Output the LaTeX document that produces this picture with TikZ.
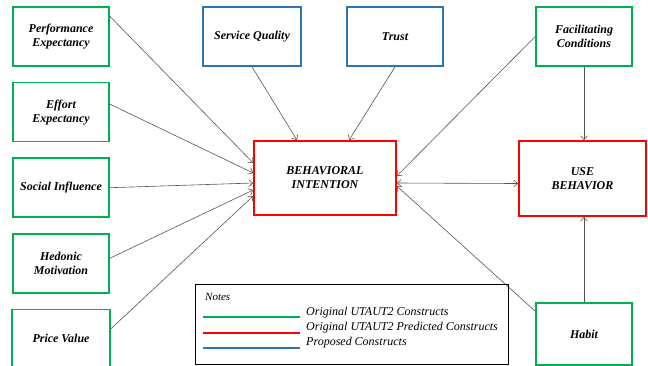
\documentclass[tikz,border=0pt]{standalone}
\usepackage{fontspec}
\setmainfont{Liberation Serif}
\usetikzlibrary{positioning, arrows.meta}
\definecolor{ugreen}{RGB}{0,176,80}
\definecolor{ured}{RGB}{255,0,0}
\definecolor{ublue}{RGB}{46,117,182}
\definecolor{arrgray}{RGB}{85,85,85}

\begin{document}
\begin{tikzpicture}[x=1pt, y=-1pt,
    every node/.style={font=\fontsize{12}{14}\selectfont\bfseries\itshape, align=center, inner sep=0pt},
    construct/.style={draw, line width=1.6pt, minimum width=96pt, minimum height=59pt},
    orig/.style={construct, draw=ugreen},
    proposed/.style={construct, draw=ublue},
    predicted/.style={draw=ured, line width=1.6pt},
    arr/.style={draw=arrgray, line width=0.6pt, -{Straight Barb[length=4pt, width=7pt]}},
    note/.style={font=\fontsize{12}{14}\selectfont\itshape, anchor=west}]
  \useasboundingbox (0,0) rectangle (648,365);

  % left column, original constructs
  \node[orig] (perf) at (61,36.5) {Performance\\Expectancy};
  \node[orig, below=15pt of perf] (effort) {Effort\\Expectancy};
  \node[orig, below=15pt of effort] (social) {Social Influence};
  \node[orig, below=15pt of social] (hedonic) {Hedonic\\Motivation};
  \node[orig, below=15pt of hedonic, minimum width=98pt] (price) {Price Value};

  % top row
  \node[proposed, minimum width=98pt] (service) at (252,36.5) {Service Quality};
  \node[proposed] (trust) at (395,36.5) {Trust};
  \node[orig] (facil) at (584,36.5) {Facilitating\\Conditions};
  \node[orig, minimum height=62pt] (habit) at (584,334) {Habit};

  % predicted constructs
  \node[predicted, minimum width=142pt, minimum height=74pt] (bi) at (325,178) {BEHAVIORAL\\INTENTION};
  \node[predicted, minimum width=127pt, minimum height=75pt] (use) at (582.5,178.5) {USE\\BEHAVIOR};

  % paths
  \draw[arr] ([yshift=-10pt]perf.north east) -- ([yshift=15pt]bi.west);
  \draw[arr] ([yshift=8pt]effort.east) -- ([yshift=5pt]bi.west);
  \draw[arr] (social.east) -- ([yshift=-5pt]bi.west);
  \draw[arr] ([yshift=5pt]hedonic.east) -- ([yshift=-12pt]bi.west);
  \draw[arr] ([yshift=10pt]price.east) -- ([yshift=-18pt]bi.west);
  \draw[arr] (service.south) -- ([xshift=-28pt]bi.north);
  \draw[arr] (trust.south) -- ([xshift=24pt]bi.north);
  \draw[arr] (facil.west) -- ([yshift=2pt]bi.east);
  \draw[arr] ([yshift=-9pt]habit.north west) -- ([yshift=-8pt]bi.east);
  \draw[arr, {Straight Barb[length=4pt, width=7pt]}-{Straight Barb[length=4pt, width=7pt]}] ([yshift=-5pt]bi.east) -- ([yshift=-5pt]use.west);
  \draw[arr] (facil.south) -- (facil.south |- use.north);
  \draw[arr] (habit.north) -- (habit.north |- use.south);

  % legend
  \node[draw, line width=0.6pt, minimum width=313pt, minimum height=80pt] (legend) at (351.5,324) {};
  \node[note, font=\fontsize{11}{13}\selectfont\itshape] (notes) at (205,297) {Notes};
  \draw[ugreen, line width=1.6pt] (203,317) -- (300,317);
  \draw[ured, line width=1.6pt] (203,333) -- (300,333);
  \draw[ublue, line width=1.6pt] (203,348) -- (300,348);
  \node[note] (l1) at (306,313) {Original UTAUT2 Constructs};
  \node[note] (l2) at (306,328) {Original UTAUT2 Predicted Constructs};
  \node[note] (l3) at (306,343) {Proposed Constructs};
\end{tikzpicture}
\end{document}
